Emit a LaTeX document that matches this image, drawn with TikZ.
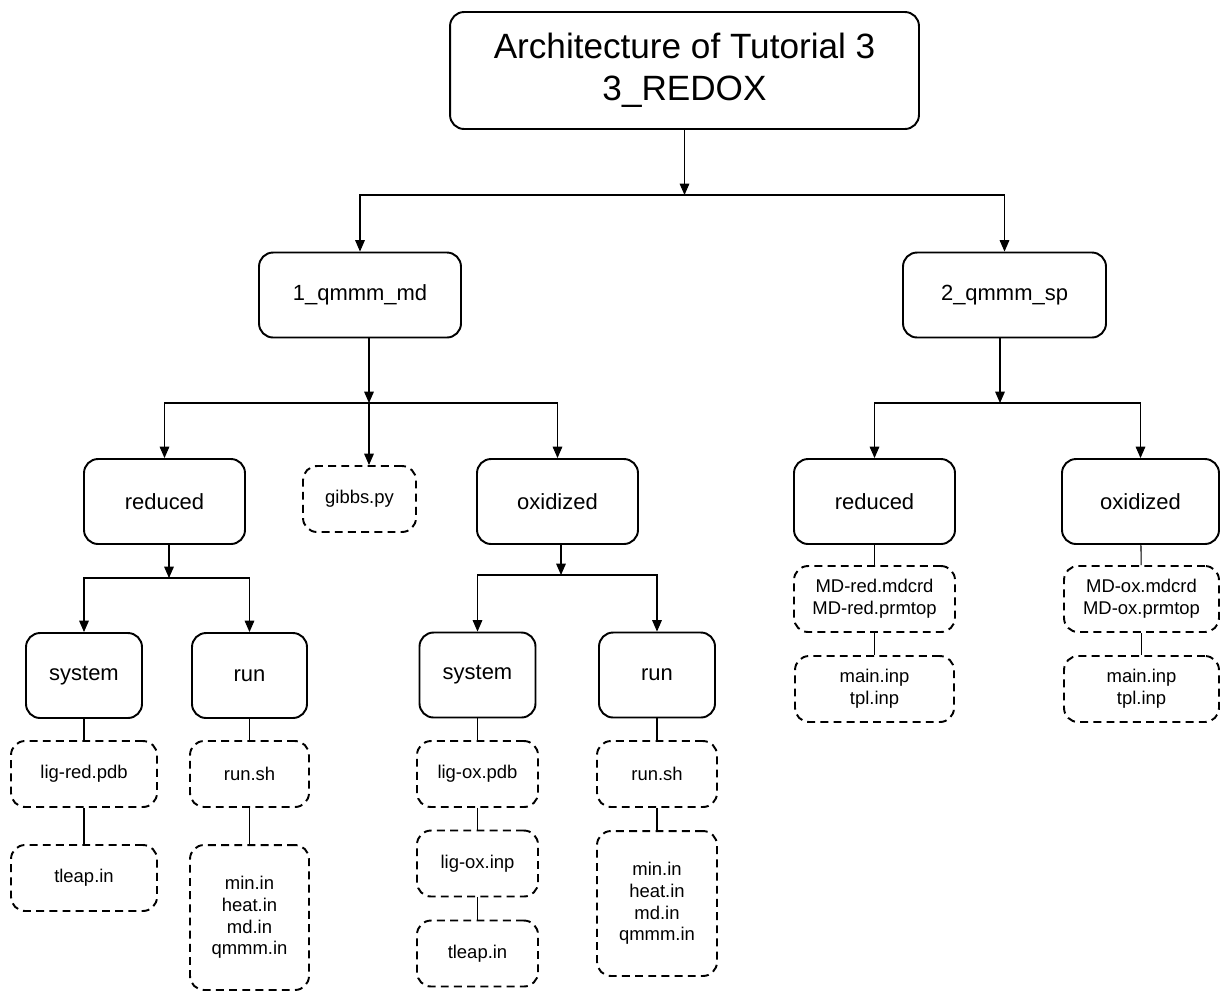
\documentclass[tikz,border=0pt]{standalone}
\usepackage{fontspec}
\setmainfont{Liberation Sans}
\usetikzlibrary{arrows.meta}
\begin{document}
\begin{tikzpicture}[x=0.02cm,y=-0.02cm,
    folder/.style={draw,line width=1.1pt,rounded corners=8pt,inner sep=0pt,align=center,
      font=\fontsize{12.5}{15}\selectfont,minimum height=1.7cm},
    file/.style={draw,line width=1.1pt,dash pattern=on 4.5pt off 3pt,rounded corners=8pt,
      inner sep=0pt,align=center,font=\fontsize{10.5}{12.3}\selectfont,minimum height=1.32cm},
    arr/.style={-{Triangle[length=6.5pt,width=5.5pt]},line width=0.6pt},
    link/.style={line width=0.6pt}]
  \useasboundingbox (0,0) rectangle (1220,992);
  % top level
  \node[folder,minimum width=9.38cm,minimum height=2.34cm,font=\fontsize{20}{24}\selectfont]
    (root) at (684.5,70.5) {Architecture of Tutorial 3\\3\_REDOX};
  \node[folder,minimum width=4.04cm] (md) at (360,295) {1\_qmmm\_md};
  \node[folder,minimum width=4.06cm] (sp) at (1004.5,295) {2\_qmmm\_sp};
  % second level
  \node[folder,minimum width=3.22cm] (mdred) at (164.5,501.5) {reduced};
  \node[file,minimum width=2.26cm] (gibbs) at (359.5,499) {gibbs.py};
  \node[folder,minimum width=3.22cm] (mdox) at (557.5,501.5) {oxidized};
  \node[folder,minimum width=3.22cm] (spred) at (874.5,501.5) {reduced};
  \node[folder,minimum width=3.14cm] (spox) at (1140.5,501.5) {oxidized};
  % 1_qmmm_md/reduced
  \node[folder,minimum width=2.32cm] (redsys) at (84,675.5) {system};
  \node[folder,minimum width=2.3cm] (redrun) at (249.5,675.5) {run};
  \node[file,minimum width=2.92cm] (ligredpdb) at (84,774) {lig-red.pdb};
  \node[file,minimum width=2.92cm] (redtleap) at (84,878) {tleap.in};
  \node[file,minimum width=2.38cm] (redrunsh) at (249.5,774) {run.sh};
  \node[file,minimum width=2.38cm,minimum height=2.9cm] (redinputs) at (249.5,917.5)
    {min.in\\heat.in\\md.in\\qmmm.in};
  % 1_qmmm_md/oxidized
  \node[folder,minimum width=2.32cm] (oxsys) at (477.5,675) {system};
  \node[folder,minimum width=2.32cm] (oxrun) at (657,675) {run};
  \node[file,minimum width=2.42cm] (ligoxpdb) at (477.5,774) {lig-ox.pdb};
  \node[file,minimum width=2.42cm] (ligoxinp) at (477.5,863.5) {lig-ox.inp};
  \node[file,minimum width=2.42cm] (oxtleap) at (477.5,953.5) {tleap.in};
  \node[file,minimum width=2.4cm] (oxrunsh) at (657,774) {run.sh};
  \node[file,minimum width=2.4cm,minimum height=2.9cm] (oxinputs) at (657,903.5)
    {min.in\\heat.in\\md.in\\qmmm.in};
  % 2_qmmm_sp
  \node[file,minimum width=3.22cm] (spredmd) at (874.5,599) {MD-red.mdcrd\\MD-red.prmtop};
  \node[file,minimum width=3.18cm] (spredinp) at (874.5,689) {main.inp\\tpl.inp};
  \node[file,minimum width=3.1cm] (spoxmd) at (1141.5,599) {MD-ox.mdcrd\\MD-ox.prmtop};
  \node[file,minimum width=3.1cm] (spoxinp) at (1141.5,689) {main.inp\\tpl.inp};
  % junctions
  \coordinate (jroot) at (684.5,195);
  \coordinate (jmd) at (369,403);
  \coordinate (jsp) at (1000,403);
  \coordinate (jmdred) at (169,578);
  \coordinate (jmdox) at (561,575);
  \begin{scope}[arr]
    \draw (root) -- (jroot);
    \draw (jroot) -| (md);
    \draw (jroot) -| (sp);
    \draw (md.south -| jmd) -- (jmd);
    \draw (jmd) -| (mdred);
    \draw (jmd) -- (jmd |- gibbs.north);
    \draw (jmd) -| (mdox);
    \draw (sp.south -| jsp) -- (jsp);
    \draw (jsp) -| (spred);
    \draw (jsp) -| (spox);
    \draw (mdred.south -| jmdred) -- (jmdred);
    \draw (jmdred) -| (redsys);
    \draw (jmdred) -| (redrun);
    \draw (mdox.south -| jmdox) -- (jmdox);
    \draw (jmdox) -| (oxsys);
    \draw (jmdox) -| (oxrun);
  \end{scope}
  \begin{scope}[link]
    \draw (redsys) -- (ligredpdb);
    \draw (ligredpdb) -- (redtleap);
    \draw (redrun) -- (redrunsh);
    \draw (redrunsh) -- (redinputs);
    \draw (oxsys) -- (ligoxpdb);
    \draw (ligoxpdb) -- (ligoxinp);
    \draw (ligoxinp) -- (oxtleap);
    \draw (oxrun) -- (oxrunsh);
    \draw (oxrunsh) -- (oxinputs);
    \draw (spred) -- (spredmd);
    \draw (spredmd) -- (spredinp);
    \draw (spox) -- (spoxmd);
    \draw (spoxmd) -- (spoxinp);
  \end{scope}
\end{tikzpicture}
\end{document}
